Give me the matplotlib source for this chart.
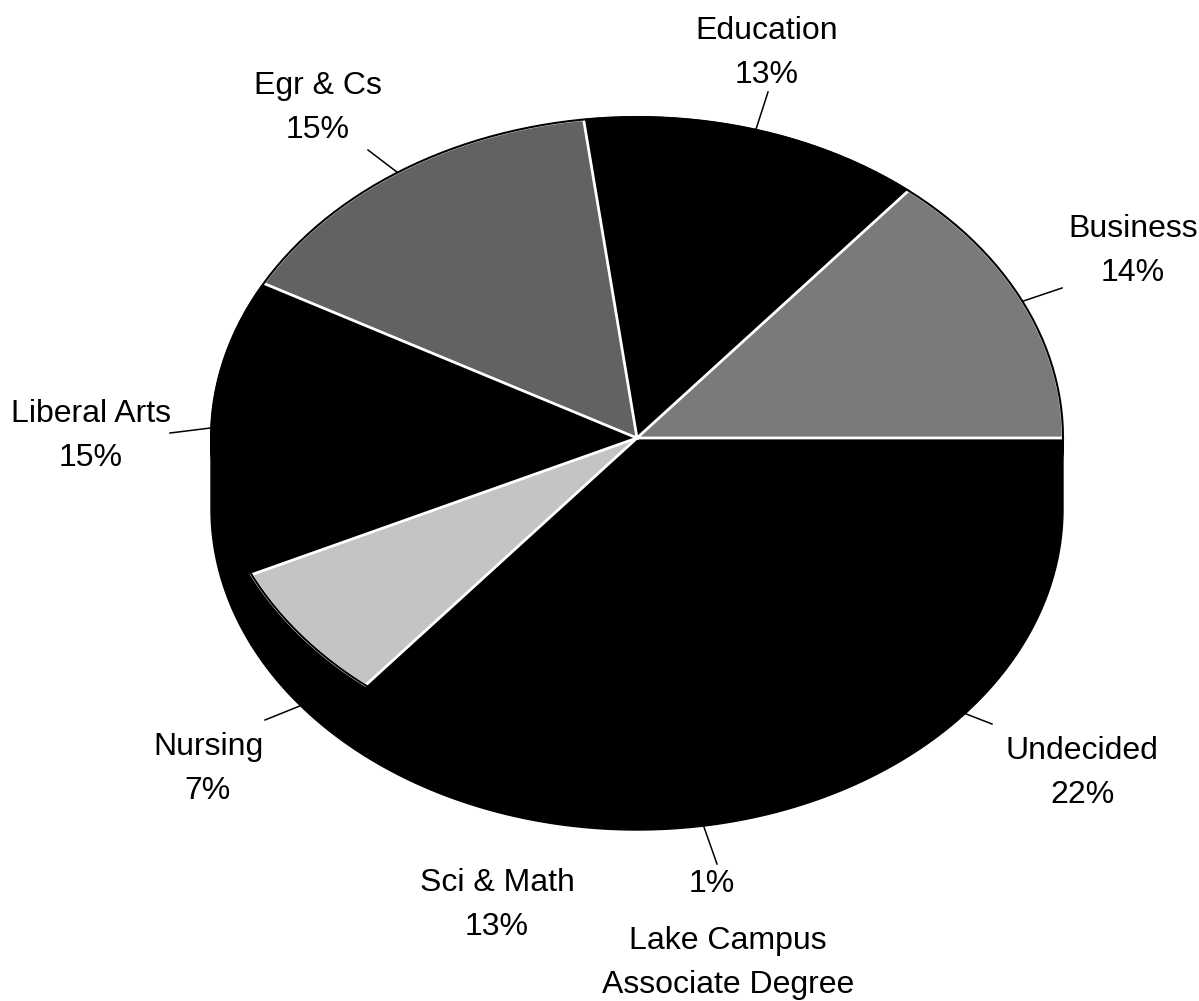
import numpy as np
import matplotlib
matplotlib.use("Agg")
import matplotlib.pyplot as plt

# slices, counterclockwise from 3 o'clock
labels = ["Business", "Education", "Egr & Cs", "Liberal Arts", "Nursing",
          "Sci & Math", "Lake Campus\nAssociate Degree", "Undecided"]
shares = [14, 13, 15, 15, 7, 13, 1, 22]
colors = ["#7a7a7a", "#000000", "#626262", "#000000", "#c4c4c4",
          "#000000", "#000000", "#000000"]

# pie geometry (pixels, y down)
cx, cy = 637, 438
rx, ry = 426, 321
depth = 71

# label text centres and leader end points
text_pos = {
    "Business": (1133, 251),
    "Education": (767, 53),
    "Egr & Cs": (318, 108),
    "Liberal Arts": (91, 436),
    "Nursing": (208, 769),
    "Sci & Math": (497, 905),
    "Undecided": (1082, 773),
}
leader_end = {
    "Business": (1062, 288),
    "Education": (768, 92),
    "Egr & Cs": (368, 150),
    "Liberal Arts": (170, 433),
    "Nursing": (265, 720),
    "Lake Campus\nAssociate Degree": (717, 864),
    "Undecided": (992, 724),
}

plt.rcParams['font.family'] = ['Liberation Sans', 'DejaVu Sans']

fig = plt.figure(figsize=(11.99, 10.01), dpi=100)
ax = fig.add_axes([0, 0, 1, 1])
ax.set_xlim(0, 1199)
ax.set_ylim(1001, 0)
ax.axis('off')


def pt(theta, drop=0.0):
    t = np.radians(theta)
    return cx + rx * np.cos(t), cy - ry * np.sin(t) + drop


edges = np.concatenate([[0], np.cumsum(shares)]) / sum(shares) * 360.0

# side walls (front half only)
for i in range(len(shares)):
    a0, a1 = max(edges[i], 180), min(edges[i + 1], 360)
    if a1 <= a0:
        continue
    th = np.linspace(a0, a1, 80)
    xt, yt = pt(th)
    xb, yb = pt(th[::-1], depth)
    ax.fill(np.concatenate([xt, xb]), np.concatenate([yt, yb]),
            facecolor="black", edgecolor="black", lw=1)

# top faces: black ones first, grey ones with white edges on top
order = sorted(range(len(shares)), key=lambda k: colors[k] != "#000000")
for i in order:
    th = np.linspace(edges[i], edges[i + 1], 120)
    xs, ys = pt(th)
    xs = np.concatenate([[cx], xs, [cx]])
    ys = np.concatenate([[cy], ys, [cy]])
    if colors[i] == "#000000":
        ax.fill(xs, ys, facecolor="black", edgecolor="black", lw=1)
    else:
        ax.fill(xs, ys, facecolor=colors[i], edgecolor="white", lw=2)

# outline
th = np.linspace(0, 360, 400)
ax.plot(*pt(th), color="black", lw=1.5)

# labels and leader lines
fs = 23
ls = 1.57
for i, lab in enumerate(labels):
    mid = (edges[i] + edges[i + 1]) / 2
    drop = depth if 180 < mid < 360 else 0
    x0, y0 = pt(mid, drop)
    if lab in leader_end:
        x1, y1 = leader_end[lab]
        ax.plot([x0, x1], [y0, y1], color="black", lw=1.1)
    if lab in text_pos:
        tx, ty = text_pos[lab]
        ax.text(tx, ty, f"{lab}\n{shares[i]}%", ha="center", va="center",
                fontsize=fs, linespacing=ls)
    else:
        ax.text(712, 884, f"{shares[i]}%", ha="center", va="center",
                fontsize=fs)
        ax.text(728, 963, lab, ha="center", va="center", fontsize=fs,
                linespacing=ls)

fig.savefig("out.png", dpi=100)
